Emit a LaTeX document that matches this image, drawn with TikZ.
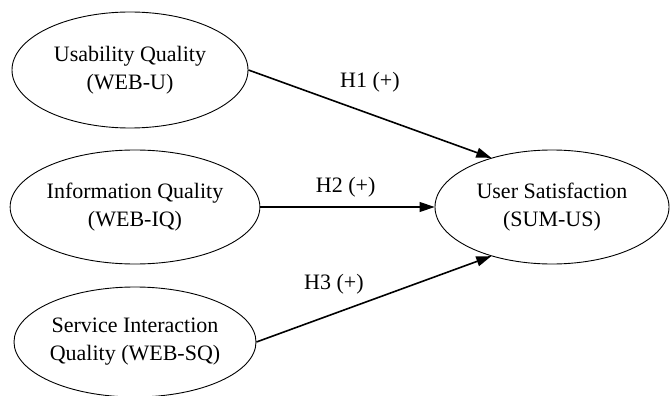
\documentclass[tikz,border=0pt]{standalone}
\usepackage{fontspec}
\setmainfont{Liberation Serif}
\usetikzlibrary{shapes.geometric, positioning, arrows.meta}

\begin{document}
\begin{tikzpicture}[x=1pt, y=-1pt, node distance=135pt, on grid,
        latent/.style={ellipse, draw, line width=0.9pt, inner sep=0pt, align=center,
            minimum width=242pt, minimum height=114pt, font=\fontsize{22}{28}\selectfont},
        hyp/.style={font=\fontsize{22}{28}\selectfont}]
        \useasboundingbox (0,0) rectangle (670,396);

        \node[latent] (iq) at (135,207) {Information Quality\\(WEB-IQ)};
        \node[latent, minimum width=236pt, minimum height=116pt] (u) [above=137pt of iq, xshift=-5pt] {Usability Quality\\(WEB-U)};
        \node[latent, minimum height=110pt] (sq) [below=of iq] {Service Interaction\\Quality (WEB-SQ)};
        \node[latent, minimum width=234pt] (us) [right=417pt of iq] {User Satisfaction\\(SUM-US)};

        \path[-{Triangle[length=15pt, width=10pt]}, line width=1.6pt]
        (u.east) edge node[hyp, yshift=32pt] {H1 (+)} (us.141)
        (iq.east) edge [line width=1.1pt] node[hyp, pos=0.49, yshift=20pt] {H2 (+)} (us.west)
        (sq.east) edge node[hyp, pos=0.33, yshift=29pt] {H3 (+)} (us.219);

    \end{tikzpicture}
\end{document}
